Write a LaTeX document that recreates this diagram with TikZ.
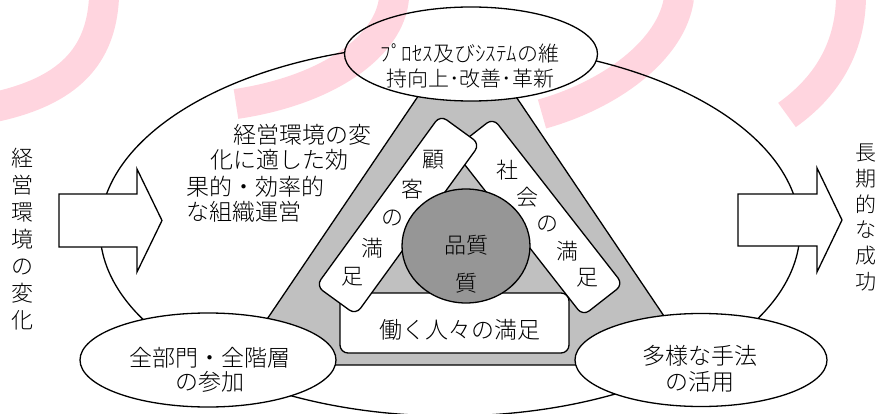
\documentclass[tikz,border=0pt]{standalone}
\usepackage{fontspec}
\IfFontExistsTF{Noto Sans CJK JP Light}
  {\setmainfont{Noto Sans CJK JP Light}}
  {\setmainfont{Noto Sans CJK JP}}
\usetikzlibrary{shapes.geometric,calc}

\definecolor{bandgray}{RGB}{192,192,192}
\definecolor{coregray}{RGB}{150,150,150}
\definecolor{markpink}{RGB}{255,213,223}

\begin{document}
\begin{tikzpicture}[x=1pt,y=-1pt,line width=1.3pt,
  oval/.style={ellipse,draw,fill=white,inner sep=0pt},
  tagbox/.style={rectangle,draw,fill=white,rounded corners=8pt,inner sep=0pt},
  jtext/.style={inner sep=0pt,align=center,font=\fontsize{23}{25}\selectfont},
  bigarrow/.style={draw,fill=white,line join=miter},
  pinkarc/.style={draw=markpink,line width=30pt,blend mode=multiply}]

\useasboundingbox (0,0) rectangle (877,414);

\node (Whole) at (450,230) [oval,minimum width=700pt,minimum height=372pt] {};

% gray band
\draw[fill=bandgray] (467,24) -- (236,365) -- (697,365) -- cycle;

\node (Staff) at (454.5,323) [tagbox,minimum width=229pt,minimum height=60pt] {};
\node (StaffText) at (460,330) [jtext] {働く人々の満足};

\node (SocietyBar) at (538,217) [tagbox,minimum width=211pt,minimum height=51pt,rotate=-52] {};
\node (CustomerBar) at (398,215) [tagbox,minimum width=211pt,minimum height=49pt,rotate=54] {};

\foreach \ch [count=\i from 0] in {顧,客,の,満,足}
  \node (Customer-\i) at ($(433,160)!\i/4!(352,277)$) [jtext,font=\fontsize{22}{24}\selectfont] {\ch};
\foreach \ch [count=\i from 0] in {社,会,の,満,足}
  \node (Society-\i) at ($(507,170)!\i/4!(587,278)$) [jtext,font=\fontsize{22}{24}\selectfont] {\ch};

\node (Quality) at (466,246) [ellipse,draw,fill=coregray,minimum width=128pt,minimum height=114pt] {};
\node (QualityText) at (466,264) [jtext,font=\fontsize{22}{38}\selectfont] {品質\\質};

\node (Join) at (208,360) [oval,minimum width=256pt,minimum height=94pt] {};
\node (JoinText) at (210,370) [jtext,font=\fontsize{23}{24.5}\selectfont] {全部門・全階層\\の参加};

\node (Methods) at (701,360) [oval,minimum width=252pt,minimum height=93pt] {};
\node (MethodsText) at (700,368.5) [jtext,font=\fontsize{23}{26}\selectfont] {多様な手法\\の活用};

\node (Process) at (471,54) [oval,minimum width=253pt,minimum height=94pt] {};
\node (ProcessText) at (470,66) [jtext,font=\fontsize{21}{25}\selectfont] {ﾌﾟﾛｾｽ及びｼｽﾃﾑの維\\持向上･改善･革新};

% arrows in and out
\draw[bigarrow] (59,194) -- ++(78,0) -- ++(0,-25) -- ++(25,51.5) -- ++(-25,51.5) -- ++(0,-25) -- ++(-78,0) -- cycle;
\draw[bigarrow] (738,194) -- ++(79,0) -- ++(0,-26) -- ++(25,52) -- ++(-25,52) -- ++(0,-26) -- ++(-79,0) -- cycle;

\node (EnvChange) at (23,239) [jtext,font=\fontsize{22}{27}\selectfont] {経\\営\\環\\境\\の\\変\\化};
\node (Success) at (866,217.5) [jtext,font=\fontsize{21}{25.8}\selectfont] {長\\期\\的\\な\\成\\功};

\node (Env1) at (233,135) [jtext,anchor=west] {経営環境の変};
\node (Env2) at (210,160) [jtext,anchor=west] {化に適した効};
\node (Env3) at (186,187) [jtext,anchor=west] {果的・効率的};
\node (Env4) at (186,212) [jtext,anchor=west] {な組織運営};

% pink marks
\draw[pinkarc] (104,-2) .. controls (101,55) and (70,92) .. (-10,108);
\draw[pinkarc] (394,-2) .. controls (390,45) and (330,90) .. (236,104);
\draw[pinkarc] (679,-2) .. controls (672,50) and (610,95) .. (542,114);
\draw[pinkarc] (851,-2) .. controls (850,50) and (825,88) .. (787,115);

\end{tikzpicture}
\end{document}
